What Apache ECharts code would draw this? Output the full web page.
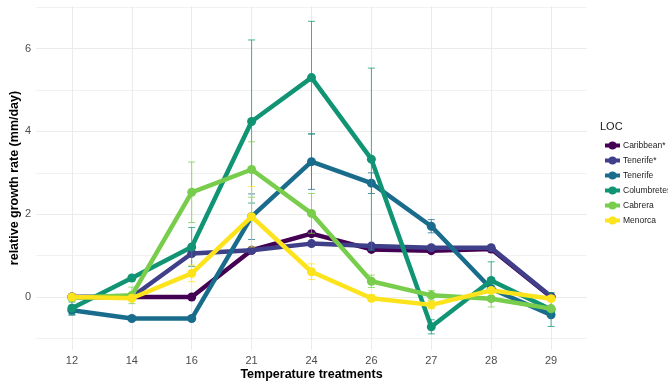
<!DOCTYPE html>
<html lang="en" style="height: 100%">
<head>
<meta charset="utf-8">
<title>Relative growth rate by temperature</title>
</head>
<body style="height: 100%; margin: 0; background: #fff">
<div id="container" style="width: 668px; height: 382px"></div>
<script type="text/javascript" src="https://cdn.jsdelivr.net/npm/echarts@6/dist/echarts.min.js"></script>
<script type="text/javascript">
// Temperature treatments (discrete x axis)
var temps = ['12', '14', '16', '21', '24', '26', '27', '28', '29'];
var locNames = ['Caribbean*', 'Tenerife*', 'Tenerife', 'Columbretes', 'Cabrera', 'Menorca'];
var locColors = ['#440154', '#3f3f8a', '#1a6c8c', '#119474', '#79cd4c', '#fde31c'];

// mean growth rate (mm/day)
var caribbean   = [0, 0, 0, 1.13, 1.53, 1.15, 1.12, 1.16, 0];
var tenerifeS   = [0, 0, 1.05, 1.13, 1.29, 1.23, 1.19, 1.19, 0.01];
var tenerife    = [-0.32, -0.52, -0.52, 1.94, 3.27, 2.75, 1.71, 0.20, -0.43];
var columbretes = [-0.27, 0.46, 1.21, 4.24, 5.30, 3.33, -0.72, 0.40, -0.30];
var cabrera     = [-0.02, 0.04, 2.53, 3.08, 2.02, 0.38, 0.04, -0.04, -0.28];
var menorca     = [0, -0.03, 0.57, 1.94, 0.61, -0.03, -0.19, 0.16, -0.04];

// error bar half-widths
var caribbeanErr   = [0, 0, 0, 0, 0, 0, 0, 0, 0];
var tenerifeSErr   = [0, 0, 0, 0, 0, 0, 0, 0, 0];
var tenerifeErr    = [0.12, 0.03, 0.05, 0.55, 0.67, 0.25, 0.16, 0.05, 0.05];
var columbretesErr = [0.15, 0.05, 0.47, 1.97, 1.36, 2.2, 0.17, 0.45, 0.41];
var cabreraErr     = [0.05, 0.2, 0.73, 0.67, 0.48, 0.15, 0.12, 0.2, 0.05];
var menorcaErr     = [0.03, 0.05, 0.2, 0.73, 0.19, 0.08, 0.09, 0.05, 0.07];

var means = [caribbean, tenerifeS, tenerife, columbretes, cabrera, menorca];
var errs = [caribbeanErr, tenerifeSErr, tenerifeErr, columbretesErr, cabreraErr, menorcaErr];

var chart = echarts.init(document.getElementById('container'));

var font = '"Liberation Sans", Arial, sans-serif';

function errorBar(color) {
  return function (params, api) {
    var x = api.value(0);
    var lo = api.value(1);
    var hi = api.value(2);
    if (hi - lo <= 0) return null;
    var top = api.coord([x, hi]);
    var bot = api.coord([x, lo]);
    var hw = 3.5;
    var st = { stroke: color, lineWidth: 1, opacity: 0.75 };
    return {
      type: 'group',
      children: [
        { type: 'line', shape: { x1: top[0], y1: top[1], x2: bot[0], y2: bot[1] }, style: st },
        { type: 'line', shape: { x1: top[0] - hw, y1: top[1], x2: top[0] + hw, y2: top[1] }, style: st },
        { type: 'line', shape: { x1: bot[0] - hw, y1: bot[1], x2: bot[0] + hw, y2: bot[1] }, style: st }
      ]
    };
  };
}

var series = [];
locNames.forEach(function (name, i) {
  series.push({
    name: name,
    type: 'line',
    data: means[i].map(function (v, j) { return [j, v]; }),
    symbol: 'circle',
    symbolSize: 9,
    lineStyle: { width: 4.5, color: locColors[i] },
    itemStyle: { color: locColors[i] },
    z: 3 + i * 2
  });
});
locNames.forEach(function (name, i) {
  series.push({
    name: name + ' error',
    type: 'custom',
    renderItem: errorBar(locColors[i]),
    data: means[i].map(function (v, j) { return [j, v - errs[i][j], v + errs[i][j]]; }),
    z: 2 + i * 2,
    silent: true
  });
});

var option = {
  animation: false,
  title: {
    text: 'LOC',
    left: 600,
    top: 121,
    padding: 0,
    textStyle: { fontFamily: font, fontSize: 11, fontWeight: 'normal', color: '#1a1a1a' }
  },
  legend: {
    data: locNames,
    orient: 'vertical',
    left: 603,
    top: 141,
    padding: 0,
    itemWidth: 15,
    itemHeight: 10,
    itemGap: 6,
    lineStyle: { width: 4 },
    textStyle: { fontFamily: font, fontSize: 8.5, color: '#1a1a1a', padding: [0, 0, 0, -2], width: 60, overflow: 'none' }
  },
  grid: { left: 36, right: 81, top: 6, bottom: 32, containLabel: false, outerBoundsMode: 'none' },
  xAxis: {
    type: 'value',
    min: -0.6,
    max: 8.6,
    minInterval: 1,
    maxInterval: 1,
    name: 'Temperature treatments',
    nameLocation: 'middle',
    nameGap: 18,
    nameMoveOverlap: false,
    nameTextStyle: { fontFamily: font, fontSize: 12.5, fontWeight: 'bold', color: '#000' },
    axisLine: { show: false },
    axisTick: { show: false },
    axisLabel: {
      margin: 5,
      fontFamily: font,
      fontSize: 11,
      color: '#4d4d4d',
      showMinLabel: false,
      showMaxLabel: false,
      formatter: function (v) {
        return Number.isInteger(v) && temps[v] !== undefined ? temps[v] : '';
      }
    },
    splitLine: { show: true, showMinLine: false, showMaxLine: false, lineStyle: { color: '#ebebeb', width: 1 } }
  },
  yAxis: {
    type: 'value',
    min: -1.28,
    max: 7.03,
    minInterval: 2,
    maxInterval: 2,
    name: 'relative growth rate (mm/day)',
    nameLocation: 'middle',
    nameGap: 15,
    nameMoveOverlap: false,
    nameTextStyle: { fontFamily: font, fontSize: 12.5, fontWeight: 'bold', color: '#000' },
    axisLine: { show: false },
    axisTick: { show: false },
    axisLabel: {
      margin: 5,
      fontFamily: font,
      fontSize: 11,
      color: '#4d4d4d',
      showMinLabel: false,
      showMaxLabel: false,
      formatter: function (v) { return v % 2 === 0 ? String(v) : ''; }
    },
    splitLine: { show: true, showMinLine: false, showMaxLine: false, lineStyle: { color: '#ebebeb', width: 1 } },
    minorTick: { show: false, splitNumber: 2 },
    minorSplitLine: { show: true, lineStyle: { color: '#f2f2f2', width: 1 } }
  },
  series: series
};

chart.setOption(option);
window.addEventListener('resize', chart.resize);
</script>
</body>
</html>
